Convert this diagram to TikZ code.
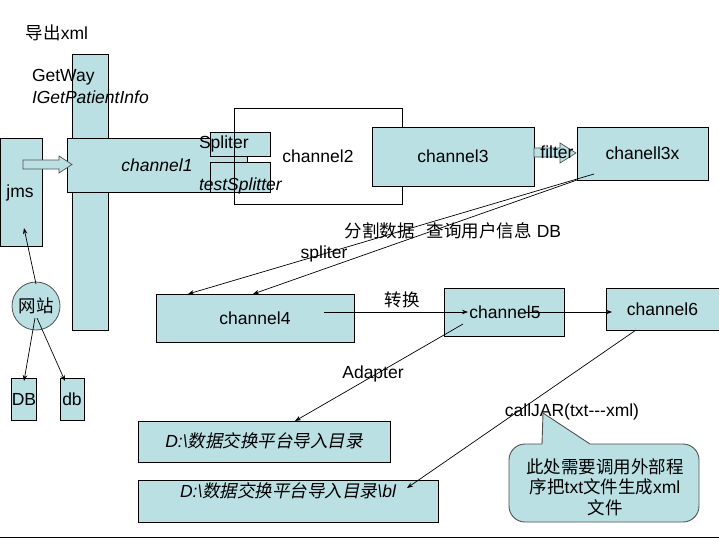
\documentclass[tikz,border=0pt]{standalone}
\usepackage{fontspec}
\setmainfont{Liberation Sans}
\newfontfamily\cjk{Noto Sans CJK SC}
\newfontfamily\cjkit{Noto Sans CJK SC}[FakeSlant=0.2]
\usetikzlibrary{arrows.meta}
\definecolor{boxfill}{RGB}{187,224,228}
\definecolor{edgegray}{RGB}{80,80,80}
\newcommand\zhs[1]{{\cjk #1}}
\newcommand\zhi[1]{{\cjkit #1}}
\tikzset{
  lbl/.style={font=\fontsize{17.5}{21}\selectfont, inner sep=0pt, outer sep=0pt, text height=13.5pt, text depth=1pt},
  box/.style={lbl, draw=black, line width=0.9pt, fill=boxfill, rectangle},
  wbox/.style={lbl, draw=black, line width=0.9pt, rectangle},
  arr/.style={draw=black, line width=0.7pt, -{Stealth[length=6pt,width=4.5pt]}},
  blockarr/.style={draw=edgegray, line width=0.7pt, fill=boxfill},
}
\begin{document}
\begin{tikzpicture}[x=1pt,y=-1pt]
\useasboundingbox (0,0) rectangle (719,541);

% title text
\node[lbl] (export) at (57,33) {\zhs{导出}xml};

% tall GetWay bar
\node[box, minimum width=36pt, minimum height=276pt] (tall) at (90,192) {};
% jms
\node[box, minimum width=42pt, minimum height=108pt] (jms) at (21,192) {};
\node[lbl] (jmst) at (20,191) {jms};
% channel1
\node[box, minimum width=180pt, minimum height=54pt] (ch1) at (157,165) {\itshape channel1};
% Spliter boxes
\node[box, minimum width=60pt, minimum height=24pt] (spl) at (240,144) {};
\node[box, minimum width=60pt, minimum height=30pt] (tspl) at (240,177) {};
% channel2 (outline only)
\node[wbox, minimum width=168pt, minimum height=96pt] (ch2) at (318,156) {channel2};
% channel3
\node[box, minimum width=162pt, minimum height=59pt] (ch3) at (453,156.5) {channel3};
% chanell3x
\node[box, minimum width=131pt, minimum height=53pt] (ch3x) at (642.5,153.5) {chanell3x};

% labels over bars
\node[lbl, anchor=west] (getway) at (32,75) {GetWay};
\node[lbl, anchor=west] (igpi) at (32,97) {\itshape IGetPatientInfo};
\node[lbl, anchor=west] (splt) at (199,142) {Spliter};
\node[lbl, anchor=west] (tsplt) at (199,184) {\itshape testSplitter};

% block arrow jms -> channel1
\draw[blockarr] (23,160) -- (59,160) -- (59,156) -- (72,164.5) -- (59,173) -- (59,169) -- (23,169) -- cycle;
% block arrow filter
\draw[blockarr] (534,148) -- (560,148) -- (560,143) -- (576,153) -- (560,163) -- (560,157) -- (534,157) -- cycle;
\node[lbl] (filter) at (557,152) {filter};

% website circle and DBs
\node[lbl, circle, draw=edgegray, line width=0.8pt, fill=boxfill, minimum size=48pt] (web) at (36,306) {\zhs{网站}};
\node[box, minimum width=24pt, minimum height=42pt] (DB) at (24,399) {DB};
\node[box, minimum width=24pt, minimum height=42pt] (db) at (72,399) {db};

\coordinate (webtop) at (36,284);
\coordinate (jmsin) at (24,228);
\coordinate (webin1) at (35,318);
\coordinate (webin2) at (37,318);
\coordinate (DBtop) at (24,381);
\coordinate (dbtop) at (65,381);
\draw[arr] (webtop) -- (jmsin);
\draw[arr] (webin1) -- (DBtop);
\draw[arr] (webin2) -- (dbtop);

% channel4..6
\node[box, minimum width=198pt, minimum height=48pt] (ch4) at (255,318) {channel4};
\node[box, minimum width=120pt, minimum height=48pt] (ch5) at (504,312) {};
\node[box, minimum width=113pt, minimum height=42pt] (ch6) at (662.5,309) {channel6};

% split lines from chanell3x to channel4
\coordinate (s1) at (594,174);
\coordinate (s2) at (577,180);
\coordinate (e1) at (188,294);
\coordinate (e2) at (253,294);
\draw[arr] (s1) -- (e1);
\draw[arr] (s2) -- (e2);
\node[lbl] (fenge) at (453,231) {\zhs{分割数据}\hspace{12pt}\zhs{查询用户信息} DB};
\node[lbl] (spliter) at (324,252) {spliter};

% channel4 -> channel5 -> channel6
\coordinate (c4in) at (324,312);
\coordinate (c5in) at (468,312);
\coordinate (c5out) at (525,312);
\coordinate (c6in) at (612,312);
\draw[arr] (c4in) -- (c5in);
\draw[arr] (c5out) -- (c6in);
\node[lbl] (c5t) at (505,312) {channel5};
\node[lbl] (zhuan) at (402,300) {\zhs{转换}};

% directories
\node[box, minimum width=252pt, minimum height=41pt] (dir1) at (264,441.5) {\itshape D:\textbackslash\zhi{数据交换平台导入目录}};
\node[box, minimum width=300pt, minimum height=42pt] (dir2) at (288,501) {};
\node[lbl] (dir2t) at (288,491) {\itshape D:\textbackslash\zhi{数据交换平台导入目录}\textbackslash bl};

\coordinate (c5a) at (463,324);
\coordinate (d1top) at (295,421);
\coordinate (c6a) at (636,330);
\coordinate (d2end) at (407,488);
\draw[arr] (c5a) -- (d1top);
\draw[arr] (c6a) -- (d2end);
\node[lbl] (adapter) at (373,372) {Adapter};
\node[lbl] (calljar) at (572,410) {callJAR(txt-{}-{}-xml)};

% callout
\draw[draw=edgegray, line width=0.9pt, fill=boxfill]
  (543,413) -- (590,444) [rounded corners=16pt] -- (699,444) -- (699,522) -- (509,522) -- (509,444) [sharp corners] -- (542,444) -- cycle;
\node[font=\fontsize{17.5}{20.5}\selectfont, inner sep=0pt, align=center] (callout) at (605,487) {\zhs{此处需要调用外部程}\\\zhs{序把}txt\zhs{文件生成}xml\\\zhs{文件}};

% bottom line
\coordinate (bl) at (0,537);
\coordinate (br) at (719,537);
\draw[line width=0.9pt] (bl) -- (br);
\end{tikzpicture}
\end{document}
